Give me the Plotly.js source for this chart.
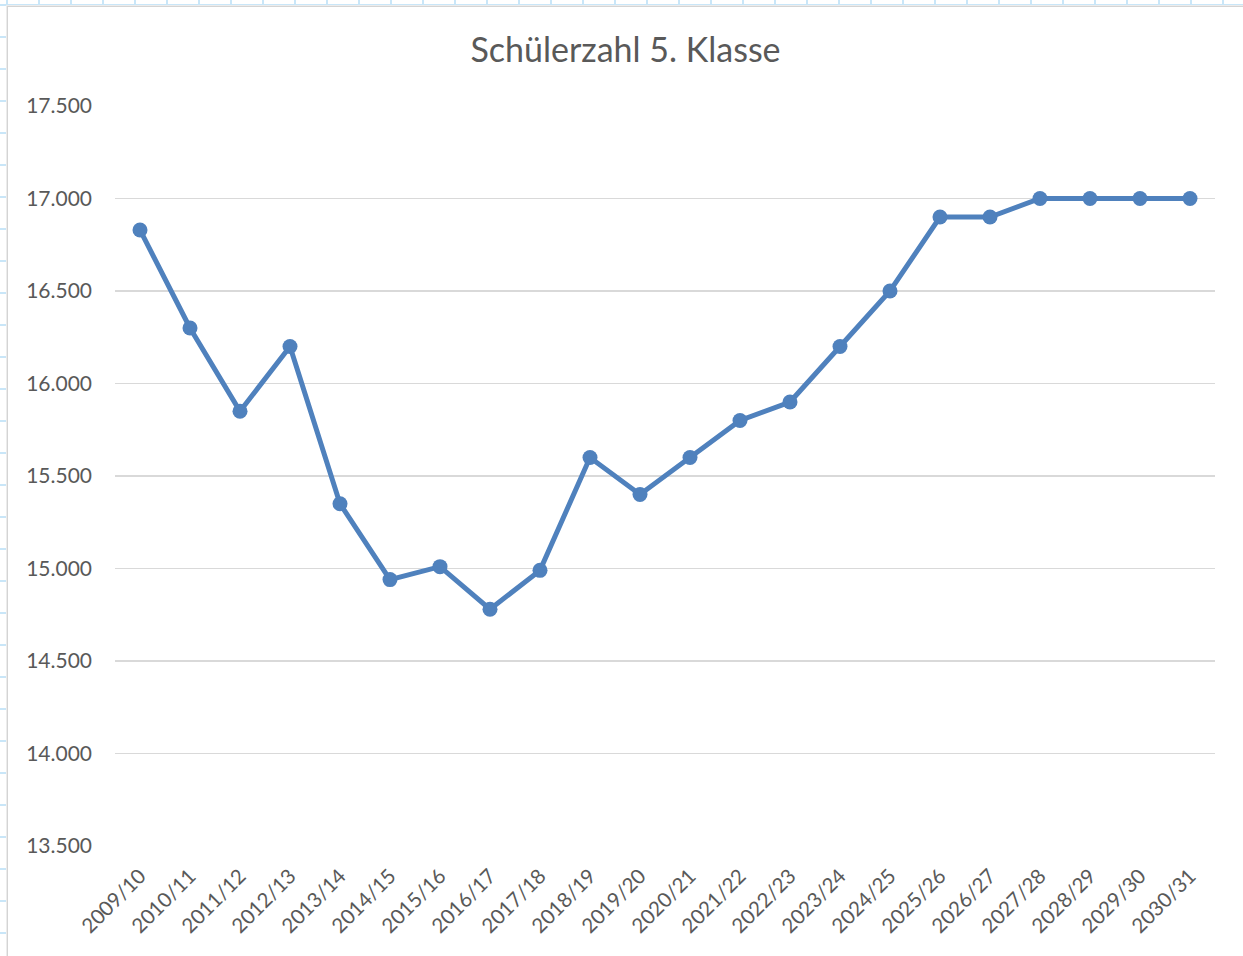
<!DOCTYPE html>
<html>
<head>
<meta charset="utf-8">
<script src="https://cdn.plot.ly/plotly-3.0.1.min.js"></script>
<style>
  html, body { margin: 0; padding: 0; }
  body {
    width: 1243px; height: 956px; overflow: hidden; position: relative;
    background-color: #ffffff;
    background-image:
      linear-gradient(to right, #c9e6f8 0, #c9e6f8 2px, transparent 2px),
      linear-gradient(to bottom, #c9e6f8 0, #c9e6f8 2px, transparent 2px);
    background-size: 32px 32px, 32px 32px;
    background-position: 38px 0, 0 36px;
  }
  #chart {
    position: absolute; left: 7px; top: 6px;
    width: 1236px; height: 950px;
    border-left: 1px solid #d4d4d4; border-top: 1px solid #d4d4d4;
    background: #ffffff;
    box-shadow: -1px -1px 0 #ececec;
  }
</style>
</head>
<body>
<div id="chart"></div>
<script>
const categories = ["2009/10","2010/11","2011/12","2012/13","2013/14","2014/15","2015/16","2016/17","2017/18","2018/19","2019/20","2020/21","2021/22","2022/23","2023/24","2024/25","2025/26","2026/27","2027/28","2028/29","2029/30","2030/31"];
const schueler = [16830,16300,15850,16200,15350,14940,15010,14780,14990,15600,15400,15600,15800,15900,16200,16500,16900,16900,17000,17000,17000,17000];
const yTickVals = [13500,14000,14500,15000,15500,16000,16500,17000,17500];
const yTickText = ["13.500","14.000","14.500","15.000","15.500","16.000","16.500","17.000","17.500"];

const trace = {
  x: categories,
  y: schueler,
  type: 'scatter',
  mode: 'lines+markers',
  line: { color: '#4f81bd', width: 5 },
  marker: { color: '#4f81bd', size: 15 },
  hoverinfo: 'x+y'
};

const layout = {
  width: 1235, height: 949,
  margin: { l: 107, r: 28, t: 99, b: 110 },
  paper_bgcolor: '#ffffff',
  plot_bgcolor: '#ffffff',
  showlegend: false,
  title: {
    text: 'Schülerzahl 5. Klasse',
    font: { family: 'Lato, "Open Sans", sans-serif', size: 34, color: '#595959' },
    x: 0.5, xanchor: 'center', y: 0.955, yanchor: 'middle'
  },
  xaxis: {
    type: 'category',
    range: [-0.5, categories.length - 0.5],
    tickangle: -45,
    tickfont: { family: 'Lato, "Open Sans", sans-serif', size: 20.5, color: '#595959' },
    showgrid: false, zeroline: false, showline: false,
    ticks: '', ticklabelstandoff: 13,
    fixedrange: true
  },
  yaxis: {
    range: [13500, 17500],
    tickvals: yTickVals,
    ticktext: yTickText,
    tickfont: { family: 'Lato, "Open Sans", sans-serif', size: 21, color: '#595959' },
    showgrid: true, gridcolor: '#d9d9d9', gridwidth: 1.5,
    zeroline: false, showline: false, ticks: '',
    ticklabelstandoff: 22,
    fixedrange: true
  }
};

Plotly.newPlot('chart', [trace], layout, { displayModeBar: false, staticPlot: true });
</script>
</body>
</html>
